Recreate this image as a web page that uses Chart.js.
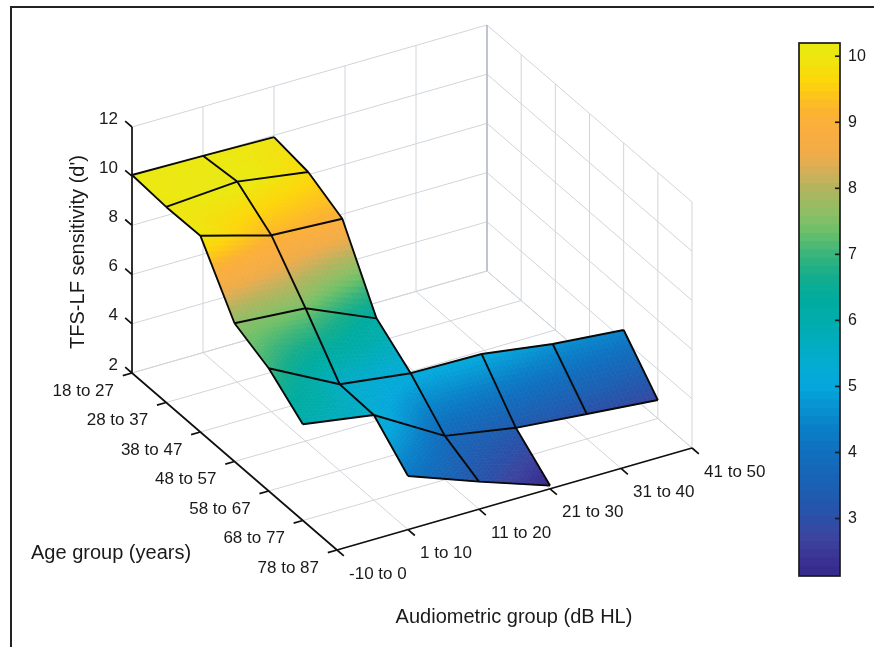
<!DOCTYPE html>
<html>
<head>
<meta charset="utf-8">
<title>TFS-LF sensitivity</title>
<script src="https://cdn.jsdelivr.net/npm/chart.js@4/dist/chart.umd.min.js"></script>
<style>
  html, body { margin: 0; padding: 0; background: #fff; overflow: hidden; }
  #wrap { position: relative; width: 874px; height: 647px; filter: blur(0.45px); }
  #surfaceChart, #colorbarChart { position: absolute; top: 0; }
  #surfaceChart { left: 0; }
  #colorbarChart { left: 780px; }
  #frame { position: absolute; left: 10px; top: 6px; right: -4px; bottom: -4px; border-top: 2px solid #222; border-left: 2px solid #222; }
</style>
</head>
<body>
<div id="wrap">
  <canvas id="surfaceChart" width="874" height="647"></canvas>
  <canvas id="colorbarChart" width="94" height="647"></canvas>
  <div id="frame"></div>
</div>
<script>
// axis labels
const ageGroups = ['18 to 27', '28 to 37', '38 to 47', '48 to 57', '58 to 67', '68 to 77', '78 to 87'];
const audioGroups = ['-10 to 0', '1 to 10', '11 to 20', '21 to 30', '31 to 40', '41 to 50'];
const zTicks = [2, 4, 6, 8, 10, 12];
const colorbarTicks = [3, 4, 5, 6, 7, 8, 9, 10];

// d' values, one list per age group (null = no data)
const age18to27 = [10.05, 10.0, 9.93, null, null, null];
const age28to37 = [9.95, 10.15, 9.71, null, null, null];
const age38to47 = [9.98, 9.17, 9.01, null, null, null];
const age48to57 = [7.62, 7.40, 6.16, null, null, null];
const age58to67 = [6.99, 5.51, 5.13, 5.08, 4.66, 4.40];
const age68to77 = [5.91, 5.46, 3.78, 3.28, 3.01, 2.75];
const age78to87 = [null, 4.18, 3.12, 2.13, null, null];
const surfaceRows = [age18to27, age28to37, age38to47, age48to57, age58to67, age68to77, age78to87];

// colour map
const colorMin = 2.13;
const colorMax = 10.2;
const cmapValues = [2.13, 2.3, 2.7, 3.0, 3.33, 4.0, 4.35, 5.0, 5.35, 6.0, 6.3, 6.65, 7.0, 7.33, 7.57, 8.0, 8.3, 8.48, 8.9, 9.1, 9.35, 9.6, 10.0, 10.2];
const cmapColors = ['#332b8c', '#3a2f92', '#3b45a0', '#2a50a8', '#1f5cb0', '#0f70bf', '#0a80c8', '#05a8dc', '#04acd0', '#00adaa', '#00aca0', '#14ad8c', '#3db57a', '#6dc069', '#8abf66', '#b5b45e', '#dcae55', '#f0ac48', '#fbae3f', '#fbb133', '#fdc31c', '#fdd60a', '#ece80f', '#e8e815'];

// 3d box -> picture coordinates
function project(r, c, z) {
  return {
    x: 132 + 34.17 * r + 71 * c,
    y: 373 + 29.5 * r - 20.4 * c - (z - 2) * 24.6
  };
}

function hexToRgb(h) {
  return [parseInt(h.slice(1, 3), 16), parseInt(h.slice(3, 5), 16), parseInt(h.slice(5, 7), 16)];
}

function colorFor(v) {
  let i = 0;
  while (i < cmapValues.length - 2 && v > cmapValues[i + 1]) i++;
  const t = Math.min(1, Math.max(0, (v - cmapValues[i]) / (cmapValues[i + 1] - cmapValues[i])));
  const a = hexToRgb(cmapColors[i]);
  const b = hexToRgb(cmapColors[i + 1]);
  return 'rgb(' + a.map((x, k) => Math.round(x + (b[k] - x) * t)).join(',') + ')';
}

// builds a polyline list with gaps between the segments
function segments(list) {
  const out = [];
  list.forEach(seg => {
    seg.forEach(p => out.push(project(p[0], p[1], p[2])));
    out.push({ x: NaN, y: NaN });
  });
  return out;
}

const rMax = ageGroups.length - 1;
const cMax = audioGroups.length - 1;
const zMin = zTicks[0];
const zMax = zTicks[zTicks.length - 1];

// grid on the floor and the two walls
const gridSegs = [];
ageGroups.forEach((a, r) => {
  gridSegs.push([[r, 0, zMin], [r, cMax, zMin]]);
  gridSegs.push([[r, cMax, zMin], [r, cMax, zMax]]);
});
audioGroups.forEach((a, c) => {
  gridSegs.push([[0, c, zMin], [rMax, c, zMin]]);
  gridSegs.push([[0, c, zMin], [0, c, zMax]]);
});
zTicks.forEach(z => {
  gridSegs.push([[0, 0, z], [0, cMax, z]]);
  gridSegs.push([[0, cMax, z], [rMax, cMax, z]]);
});

// axes and tick marks
const axisSegs = [
  [[0, 0, zMin], [0, 0, zMax]],
  [[0, 0, zMin], [rMax, 0, zMin]],
  [[rMax, 0, zMin], [rMax, cMax, zMin]]
];
zTicks.forEach(z => axisSegs.push([[-0.2, 0, z], [0, 0, z]]));
ageGroups.forEach((a, r) => axisSegs.push([[r, -0.13, zMin], [r, 0, zMin]]));
audioGroups.forEach((a, c) => axisSegs.push([[rMax, c, zMin], [rMax + 0.2, c, zMin]]));

// black edges of the surface
const meshSegs = [];
surfaceRows.forEach((row, r) => {
  row.forEach((v, c) => {
    if (v === null) return;
    if (c < cMax && row[c + 1] !== null) meshSegs.push([[r, c, v], [r, c + 1, row[c + 1]]]);
    if (r < rMax && surfaceRows[r + 1][c] !== null) meshSegs.push([[r, c, v], [r + 1, c, surfaceRows[r + 1][c]]]);
  });
});

function lineSet(label, segs, color, width, order) {
  return {
    label: label,
    data: segments(segs),
    showLine: true,
    spanGaps: false,
    borderColor: color,
    borderWidth: width,
    pointRadius: 0,
    tension: 0,
    order: order
  };
}

// interpolated faces, drawn just under the mesh lines
function drawSurface(chart) {
  const ctx = chart.ctx;
  const sx = chart.scales.x;
  const sy = chart.scales.y;
  const steps = 16;
  ctx.save();
  ctx.lineWidth = 0.7;
  for (let r = 0; r < rMax; r++) {
    for (let c = cMax - 1; c >= 0; c--) {
      const z00 = surfaceRows[r][c], z01 = surfaceRows[r][c + 1];
      const z10 = surfaceRows[r + 1][c], z11 = surfaceRows[r + 1][c + 1];
      if (z00 === null || z01 === null || z10 === null || z11 === null) continue;
      const zAt = (u, v) => z00 * (1 - u) * (1 - v) + z01 * (1 - u) * v + z10 * u * (1 - v) + z11 * u * v;
      const px = (u, v) => {
        const p = project(r + u, c + v, zAt(u, v));
        return [sx.getPixelForValue(p.x), sy.getPixelForValue(p.y)];
      };
      for (let i = 0; i < steps; i++) {
        for (let j = 0; j < steps; j++) {
          const u0 = i / steps, u1 = (i + 1) / steps, v0 = j / steps, v1 = (j + 1) / steps;
          const col = colorFor(zAt((u0 + u1) / 2, (v0 + v1) / 2));
          ctx.fillStyle = col;
          ctx.strokeStyle = col;
          ctx.beginPath();
          ctx.moveTo(...px(u0, v0));
          ctx.lineTo(...px(u0, v1));
          ctx.lineTo(...px(u1, v1));
          ctx.lineTo(...px(u1, v0));
          ctx.closePath();
          ctx.fill();
          ctx.stroke();
        }
      }
    }
  }
  ctx.restore();
}

function drawLabels(chart) {
  const ctx = chart.ctx;
  const sx = chart.scales.x;
  const sy = chart.scales.y;
  const put = (text, x, y, align) => {
    ctx.textAlign = align;
    ctx.fillText(text, sx.getPixelForValue(x), sy.getPixelForValue(y));
  };
  ctx.save();
  ctx.fillStyle = '#1a1a1a';
  ctx.font = '17px "Liberation Sans", Arial, sans-serif';
  ctx.textBaseline = 'middle';
  zTicks.forEach(z => {
    const p = project(0, 0, z);
    put(String(z), p.x - 14, p.y - 8, 'right');
  });
  ageGroups.forEach((a, r) => {
    const p = project(r, 0, zMin);
    put(a, p.x - 18, p.y + 18, 'right');
  });
  audioGroups.forEach((a, c) => {
    const p = project(rMax, c, zMin);
    put(a, p.x + 12, p.y + 24, 'left');
  });
  ctx.font = '20px "Liberation Sans", Arial, sans-serif';
  put('Age group (years)', 31, 553, 'left');
  put('Audiometric group (dB HL)', 514, 617, 'center');
  ctx.translate(78, 252);
  ctx.rotate(-Math.PI / 2);
  ctx.textAlign = 'center';
  ctx.fillText("TFS-LF sensitivity (d')", 0, 0);
  ctx.restore();
}

new Chart(document.getElementById('surfaceChart').getContext('2d'), {
  type: 'scatter',
  data: {
    datasets: [
      lineSet('grid', gridSegs, '#d0d5da', 1, 4),
      lineSet('corner', [[[0, cMax, zMin], [0, cMax, zMax]]], '#b4bac0', 1.4, 3),
      lineSet('mesh', meshSegs, '#0a0a0a', 1.9, 2),
      lineSet('axes', axisSegs, '#111111', 1.7, 1)
    ]
  },
  options: {
    responsive: false,
    animation: false,
    layout: { padding: 0 },
    plugins: { legend: { display: false }, tooltip: { enabled: false } },
    scales: {
      x: { type: 'linear', display: false, min: 0, max: 874 },
      y: { type: 'linear', display: false, min: 0, max: 647, reverse: true }
    }
  },
  plugins: [{
    id: 'surfaceFaces',
    beforeDatasetDraw(chart, args) {
      if (chart.data.datasets[args.index].label === 'mesh') drawSurface(chart);
    },
    afterDraw: drawLabels
  }]
});

// colour bar: one thin floating bar per colour step
const barSteps = 64;
const barSets = [];
for (let i = 0; i < barSteps; i++) {
  const lo = colorMin + (colorMax - colorMin) * i / barSteps;
  const hi = colorMin + (colorMax - colorMin) * (i + 1) / barSteps;
  barSets.push({
    data: [[lo, Math.min(colorMax, hi + 0.02)]],
    backgroundColor: colorFor((lo + hi) / 2),
    borderWidth: 0,
    grouped: false,
    barPercentage: 1,
    categoryPercentage: 1
  });
}

new Chart(document.getElementById('colorbarChart').getContext('2d'), {
  type: 'bar',
  data: { labels: [''], datasets: barSets },
  options: {
    responsive: false,
    animation: false,
    layout: { padding: { left: 19, top: 43, bottom: 71, right: 0 } },
    plugins: { legend: { display: false }, tooltip: { enabled: false } },
    scales: {
      x: { display: false },
      y: {
        position: 'right',
        min: colorMin,
        max: colorMax,
        afterBuildTicks(axis) { axis.ticks = colorbarTicks.map(v => ({ value: v })); },
        afterFit(axis) { axis.width = 34; },
        grid: { display: false },
        border: { display: false },
        ticks: {
          color: '#1a1a1a',
          padding: 0,
          font: { family: '"Liberation Sans", Arial, sans-serif', size: 16 }
        }
      }
    }
  },
  plugins: [{
    id: 'colorbarBox',
    afterDraw(chart) {
      const ctx = chart.ctx;
      const area = chart.chartArea;
      ctx.save();
      ctx.strokeStyle = '#1c1c1c';
      ctx.lineWidth = 1.7;
      ctx.strokeRect(area.left, area.top, area.right - area.left, area.bottom - area.top);
      colorbarTicks.forEach(v => {
        const y = chart.scales.y.getPixelForValue(v);
        ctx.beginPath();
        ctx.moveTo(area.right - 5, y);
        ctx.lineTo(area.right, y);
        ctx.stroke();
      });
      ctx.restore();
    }
  }]
});
</script>
</body>
</html>
